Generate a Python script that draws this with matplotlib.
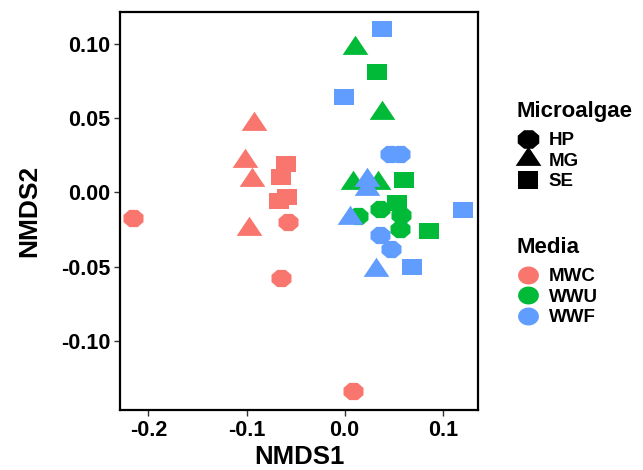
import numpy as np
import matplotlib
matplotlib.use("Agg")
import matplotlib.pyplot as plt
from matplotlib.lines import Line2D

plt.rcParams['font.family'] = ['Liberation Sans', 'DejaVu Sans']
plt.rcParams['font.weight'] = 'bold'

# ---- data ----
media = ["MWC", "WWU", "WWF"]
microalgae = ["HP", "MG", "SE"]
media_colors = ["#F8766D", "#00BA38", "#619CFF"]

# MWC
mwc_hp_x = [-0.216, -0.058, -0.065, 0.009]
mwc_hp_y = [-0.017, -0.020, -0.058, -0.134]
mwc_mg_x = [-0.092, -0.102, -0.094, -0.097]
mwc_mg_y = [0.046, 0.021, 0.008, -0.025]
mwc_se_x = [-0.060, -0.065, -0.059, -0.067]
mwc_se_y = [0.019, 0.010, -0.003, -0.006]
# WWU
wwu_hp_x = [0.036, 0.057, 0.056, 0.014]
wwu_hp_y = [-0.011, -0.015, -0.025, -0.016]
wwu_mg_x = [0.011, 0.038, 0.009, 0.034]
wwu_mg_y = [0.097, 0.053, 0.006, 0.006]
wwu_se_x = [0.033, 0.061, 0.053, 0.086]
wwu_se_y = [0.081, 0.008, -0.007, -0.026]
# WWF
wwf_hp_x = [0.046, 0.056, 0.036, 0.047]
wwf_hp_y = [0.026, 0.026, -0.029, -0.038]
wwf_mg_x = [0.023, 0.023, 0.005, 0.032]
wwf_mg_y = [0.008, 0.002, -0.017, -0.052]
wwf_se_x = [0.038, -0.001, 0.121, 0.069]
wwf_se_y = [0.110, 0.064, -0.012, -0.050]

groups = {
    "MWC": [(mwc_hp_x, mwc_hp_y), (mwc_mg_x, mwc_mg_y), (mwc_se_x, mwc_se_y)],
    "WWU": [(wwu_hp_x, wwu_hp_y), (wwu_mg_x, wwu_mg_y), (wwu_se_x, wwu_se_y)],
    "WWF": [(wwf_hp_x, wwf_hp_y), (wwf_mg_x, wwf_mg_y), (wwf_se_x, wwf_se_y)],
}

# ---- marker shapes (slightly wide, like the reference) ----
SX = 1.16
ang = np.deg2rad(22.5 + 45 * np.arange(9))
octagon = [(SX * np.cos(a), np.sin(a)) for a in ang]
triangle = [(-SX, -0.577), (SX, -0.577), (0, 1.155), (-SX, -0.577)]
square = [(-SX, -1), (SX, -1), (SX, 1), (-SX, 1), (-SX, -1)]
ca = np.linspace(0, 2 * np.pi, 41)
ellipse = [(SX * np.cos(a), np.sin(a)) for a in ca]
shapes = [octagon, triangle, square]
msizes = [14.4, 18.5, 13.9]

fig = plt.figure(figsize=(6.43, 4.70), dpi=100)
ax = fig.add_axes([0.1866, 0.1277, 0.7434 - 0.1866, 0.9745 - 0.1277])

for m, col in zip(media, media_colors):
    for (xs, ys), shp, ms in zip(groups[m], shapes, msizes):
        ax.plot(xs, ys, linestyle='none', marker=shp, markersize=ms,
                color=col, markeredgewidth=0)

ax.set_xlim(-0.229, 0.136)
ax.set_ylim(-0.1465, 0.1213)
ax.set_xticks([-0.2, -0.1, 0.0, 0.1])
ax.set_xticklabels(["-0.2", "-0.1", "0.0", "0.1"])
ax.set_yticks([-0.10, -0.05, 0.0, 0.05, 0.10])
ax.set_yticklabels(["-0.10", "-0.05", "0.00", "0.05", "0.10"])
ax.tick_params(labelsize=15.5, length=4, width=1, color='#333333', pad=3)
for lab in ax.get_xticklabels() + ax.get_yticklabels():
    lab.set_fontweight('bold')
for sp in ax.spines.values():
    sp.set_linewidth(1.6)
    sp.set_color('black')
ax.set_xlabel("NMDS1", fontsize=18.5, fontweight='bold', labelpad=3)
ax.set_ylabel("NMDS2", fontsize=19, fontweight='bold', labelpad=14)

# ---- legends ----
common = dict(loc='upper left', frameon=False, fontsize=13.5,
              title_fontproperties={'weight': 'bold', 'size': 16},
              handlelength=1.2, handletextpad=0.5, labelspacing=0.18,
              borderpad=0, alignment='left')
h1 = [Line2D([], [], linestyle='none', marker=s, markersize=ms, color='black',
             markeredgewidth=0) for s, ms in zip(shapes, [15.5, 18.5, 14.5])]
leg1 = fig.legend(h1, microalgae, title="Microalgae",
                  bbox_to_anchor=(0.789, 0.806), **common)
h2 = [Line2D([], [], linestyle='none', marker=ellipse, markersize=15,
             color=c, markeredgewidth=0) for c in media_colors]
leg2 = fig.legend(h2, media, title="Media",
                  bbox_to_anchor=(0.789, 0.516), **common)
for lg in (leg1, leg2):
    lg._legend_box.sep = 7.5
    for t in lg.get_texts():
        t.set_fontweight('bold')

fig.savefig("out.png", dpi=100)
